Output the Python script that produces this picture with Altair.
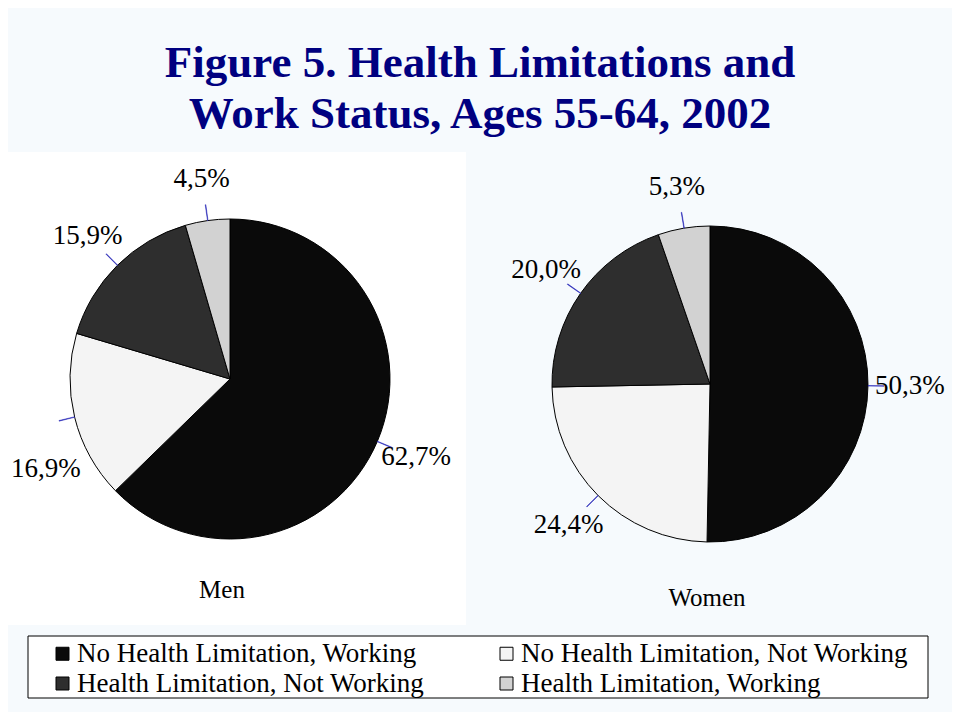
import altair as alt
import pandas as pd

categories = [
    "No Health Limitation, Working",
    "No Health Limitation, Not Working",
    "Health Limitation, Not Working",
    "Health Limitation, Working",
]
men_values = [62.7, 16.9, 15.9, 4.5]
women_values = [50.3, 24.4, 20.0, 5.3]
colors = ["#0a0a0a", "#f4f4f4", "#2e2e2e", "#d2d2d2"]

rows = []
for grp, vals in (("Men", men_values), ("Women", women_values)):
    for i, (c, v) in enumerate(zip(categories, vals)):
        rows.append({"group": grp, "category": c, "value": v, "order": i,
                     "label": f"{v:.1f}".replace(".", ",") + "%"})
df = pd.DataFrame(rows)

# legend fills column by column: reorder so rows read as in the original
legend_order = [categories[0], categories[2], categories[1], categories[3]]
legend_colors = [colors[0], colors[2], colors[1], colors[3]]

SERIF = "Liberation Serif"
theta_scale = alt.Scale(domain=[0, 100])
color = alt.Color("category:N", scale=alt.Scale(domain=legend_order, range=legend_colors),
                  legend=alt.Legend(title=None))

base = alt.Chart(df)

panel = alt.Chart(pd.DataFrame({"a": [0]})).mark_rect(fill="white").encode(
    x=alt.value(0), x2=alt.value(458), y=alt.value(144), y2=alt.value(617))
legend_box = alt.Chart(pd.DataFrame({"a": [0]})).mark_rect(
    fill="white", stroke="black", strokeWidth=1).encode(
    x=alt.value(20), x2=alt.value(920), y=alt.value(628), y2=alt.value(690))

pies = {"Men": (222, 371, 160), "Women": (702, 376, 158)}
LR = 42
layers = [panel, legend_box]
for grp, (cx, cy, r) in pies.items():
    sub = base.transform_filter(alt.datum.group == grp)
    arc = sub.mark_arc(radius=r, stroke="black", strokeWidth=1).encode(
        theta=alt.Theta("value:Q", stack=True, scale=theta_scale),
        color=color,
        order=alt.Order("order:Q"),
        x=alt.value(cx), y=alt.value(cy),
    )
    lead = sub.transform_window(
        cum="sum(value)", sort=[alt.SortField("order")]
    ).transform_calculate(
        mid="datum.cum - datum.value / 2", mid2="datum.cum - datum.value / 2 + 0.06"
    ).mark_arc(radius=r, radius2=r + 16, fill="#2a2ab8", stroke="#2a2ab8",
               strokeWidth=0.5).encode(
        theta=alt.Theta("mid:Q", scale=theta_scale), theta2="mid2:Q",
        x=alt.value(cx), y=alt.value(cy),
    )
    enc = dict(
        theta=alt.Theta("value:Q", stack=True, scale=theta_scale),
        order=alt.Order("order:Q"),
        text="label:N",
        x=alt.value(cx), y=alt.value(cy),
    )
    if grp == "Men":
        # the lower-left label sits further down in the original
        txt_main = sub.transform_calculate(lab=alt.expr.if_(alt.datum.order == 1, "", alt.datum.label)).mark_text(
            radius=r + LR, font=SERIF, fontSize=27, color="black").encode(
            theta=enc["theta"], order=enc["order"], text="lab:N",
            x=enc["x"], y=enc["y"])
        txt_low = sub.transform_calculate(lab=alt.expr.if_(alt.datum.order == 1, alt.datum.label, "")).mark_text(
            radius=r + LR, font=SERIF, fontSize=27, color="black", dx=12, dy=42).encode(
            theta=enc["theta"], order=enc["order"], text="lab:N",
            x=enc["x"], y=enc["y"])
        layers += [arc, lead, txt_main, txt_low]
    else:
        txt = sub.mark_text(radius=r + LR, font=SERIF, fontSize=27, color="black").encode(**enc)
        layers += [arc, lead, txt]

one = pd.DataFrame({"a": [0]})
title1 = alt.Chart(one).mark_text(
    text="Figure 5.  Health Limitations and", font=SERIF, fontSize=45,
    fontWeight="bold", color="#000080", baseline="alphabetic").encode(
    x=alt.value(472), y=alt.value(69))
title2 = alt.Chart(one).mark_text(
    text="Work Status, Ages 55-64, 2002", font=SERIF, fontSize=45,
    fontWeight="bold", color="#000080", baseline="alphabetic").encode(
    x=alt.value(472), y=alt.value(120))
men_lbl = alt.Chart(one).mark_text(text="Men", font=SERIF, fontSize=25,
                                   color="black").encode(x=alt.value(214), y=alt.value(582))
women_lbl = alt.Chart(one).mark_text(text="Women", font=SERIF, fontSize=25,
                                     color="black").encode(x=alt.value(699), y=alt.value(590))
layers += [title1, title2, men_lbl, women_lbl]

chart = alt.layer(*layers).properties(
    width=944, height=704,
    autosize=alt.AutoSizeParams(type="none"),
    padding=0,
    background="#f6fafd",
).configure_view(stroke=None).configure_legend(
    orient="none", legendX=41, legendY=632, columns=2, columnPadding=68,
    rowPadding=2, symbolType="square", symbolSize=169, symbolStrokeColor="black",
    symbolStrokeWidth=1, labelFont=SERIF, labelFontSize=27, labelColor="black",
    labelLimit=600, labelOffset=1, padding=0,
)

chart.save("out.html", embed_options={"renderer": "svg", "actions": False})
